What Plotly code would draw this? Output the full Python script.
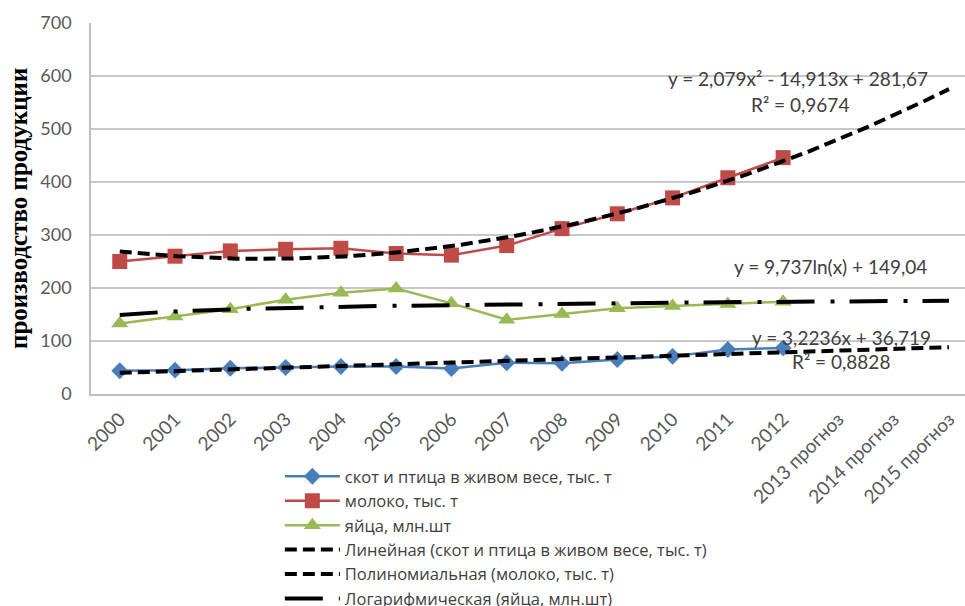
import numpy as np
import plotly.graph_objects as go

# Categories (years, with forecast years)
years = ["2000", "2001", "2002", "2003", "2004", "2005", "2006", "2007",
         "2008", "2009", "2010", "2011", "2012",
         "2013 прогноз", "2014 прогноз", "2015 прогноз"]

# Observed production, 2000-2012
livestock = [44, 45, 48.5, 50, 52, 52, 48, 59, 58, 65, 71, 84, 87]        # скот и птица, тыс. т
milk = [250, 260, 270, 273, 275, 265, 262, 280, 312, 340, 370, 408, 446]   # молоко, тыс. т
eggs = [133, 146, 160, 178, 191, 199, 171, 140, 151, 162, 166, 170, 174]   # яйца, млн.шт

# Trend line coefficients (x = 1 for 2000)
lin_a, lin_b = 3.2236, 36.719
poly_a, poly_b, poly_c = 2.079, -14.913, 281.67
log_a, log_b = 9.737, 149.04

idx = list(range(len(livestock)))
xt = np.linspace(0, len(years) - 1, 200)
t = xt + 1

BLUE = "#4A7EBB"
RED = "#BE4B48"
GREEN = "#98B954"
FONT = "Lato"

fig = go.Figure()

fig.add_trace(go.Scatter(
    x=idx, y=livestock, mode="lines+markers",
    name="скот и птица в живом весе, тыс. т",
    line=dict(color=BLUE, width=2.5),
    marker=dict(symbol="diamond", size=13, color=BLUE)))
fig.add_trace(go.Scatter(
    x=idx, y=milk, mode="lines+markers",
    name="молоко, тыс. т",
    line=dict(color=RED, width=2.5),
    marker=dict(symbol="square", size=15, color=RED)))
fig.add_trace(go.Scatter(
    x=idx, y=eggs, mode="lines+markers",
    name="яйца, млн.шт",
    line=dict(color=GREEN, width=2.5),
    marker=dict(symbol="triangle-up", size=15, color=GREEN)))

fig.add_trace(go.Scatter(
    x=xt, y=lin_a * t + lin_b, mode="lines",
    name="Линейная (скот и птица в живом весе, тыс. т)",
    line=dict(color="black", width=4, dash="12px,6px")))
fig.add_trace(go.Scatter(
    x=xt, y=poly_a * t ** 2 + poly_b * t + poly_c, mode="lines",
    name="Полиномиальная (молоко, тыс. т)",
    line=dict(color="black", width=4, dash="12px,6px")))
fig.add_trace(go.Scatter(
    x=xt, y=log_a * np.log(t) + log_b, mode="lines",
    name="Логарифмическая (яйца, млн.шт)",
    line=dict(color="black", width=4, dash="38px,16px,4px,15px")))

eq_font = dict(family=FONT, size=19, color="#404040")
annotations = [
    dict(x=12.27, y=596, text="y = 2,079x² - 14,913x + 281,67"),
    dict(x=12.31, y=547, text="R² = 0,9674"),
    dict(x=12.85, y=240, text="y = 9,737ln(x) + 149,04"),
    dict(x=13.05, y=107, text="y = 3,2236x + 36,719"),
    dict(x=13.05, y=62, text="R² = 0,8828"),
]
for a in annotations:
    a.update(xref="x", yref="y", showarrow=False, font=eq_font,
             xanchor="center", yanchor="middle")

annotations.append(dict(
    xref="paper", yref="paper", x=-0.083, y=0.5,
    text="<b>производство продукции</b>", textangle=-90, showarrow=False,
    font=dict(family="Liberation Serif", size=25, color="black"),
    xanchor="center", yanchor="middle"))

fig.update_layout(
    width=965, height=606,
    margin=dict(l=91, r=0, t=23, b=212, autoexpand=False),
    paper_bgcolor="white", plot_bgcolor="white",
    font=dict(family=FONT, size=17, color="#595959"),
    annotations=annotations,
    showlegend=True,
    legend=dict(
        xref="container", yref="container",
        x=0.29, y=1 - 459 / 606, xanchor="left", yanchor="top",
        font=dict(family="Open Sans", size=16.5, color="#404040"),
        itemwidth=55, tracegroupgap=0,
        bgcolor="rgba(0,0,0,0)"),
    xaxis=dict(
        range=[-0.52, 15.29],
        tickmode="array", tickvals=list(range(len(years))), ticktext=years,
        tickangle=-45, showgrid=False, zeroline=False,
        showline=True, linecolor="#BFBFBF", linewidth=1.5,
        ticklabelstandoff=5,
        tickfont=dict(family=FONT, size=19, color="#595959")),
    yaxis=dict(
        range=[0, 700], dtick=100, showgrid=True, gridcolor="#C8C8C8",
        gridwidth=1.5, zeroline=False,
        showline=True, linecolor="#BFBFBF", linewidth=1.5,
        ticklabelstandoff=14,
        tickfont=dict(family=FONT, size=18, color="#595959")),
)

fig.write_html("out.html")
